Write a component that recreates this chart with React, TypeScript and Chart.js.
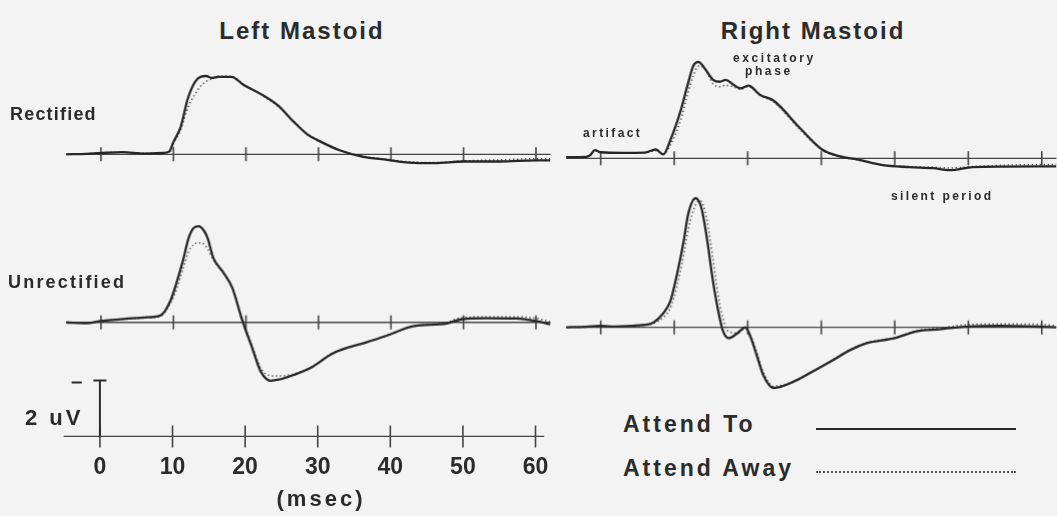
import React, { useEffect, useRef } from "react";
import { Chart, registerables } from "chart.js";

Chart.register(...registerables);

// ---------- data ----------
const X_TICKS = [0, 10, 20, 30, 40, 50, 60];
const SCALE_BAR_UV = 2;
const SERIES_NAMES = ["Attend To", "Attend Away"];

// Left mastoid, rectified (ms, uV)
const LR_MS = [-4.8, -2, 0, 3, 6, 8.5, 9.4, 10, 11, 12, 13, 13.8, 14.5, 15.3, 16.2, 18, 19.7, 22, 24.4, 26.6, 28.5, 30, 33, 36, 39.5, 42.5, 46, 50, 55, 60, 62];
const LR_TO = [0, 0.02, 0.05, 0.08, 0.03, 0.05, 0.1, 0.45, 1.0, 2.05, 2.65, 2.83, 2.85, 2.78, 2.82, 2.82, 2.52, 2.2, 1.78, 1.18, 0.72, 0.5, 0.14, -0.08, -0.2, -0.3, -0.32, -0.26, -0.26, -0.22, -0.22];
const LR_AWAY = [0, 0.02, 0.05, 0.07, 0.04, 0.05, 0.08, 0.4, 0.9, 1.7, 2.2, 2.5, 2.65, 2.75, 2.85, 2.83, 2.55, 2.18, 1.75, 1.2, 0.74, 0.52, 0.15, -0.06, -0.18, -0.27, -0.3, -0.24, -0.2, -0.16, -0.16];

// Left mastoid, unrectified
const LU_MS = [-4.8, -2, 0, 3.7, 6, 8.2, 9.6, 10.3, 11.3, 12.1, 12.8, 13.5, 14.2, 14.7, 15.5, 16.9, 18.1, 19.5, 20.9, 22, 23.4, 24.5, 26.6, 28.9, 32, 36.7, 39.6, 43, 47.7, 49.5, 53, 57.3, 60, 62];
const LU_TO = [0, -0.03, 0.05, 0.14, 0.18, 0.25, 0.79, 1.32, 2.21, 3.04, 3.4, 3.46, 3.3, 3.04, 2.32, 1.79, 1.25, 0.07, -0.95, -1.75, -2.1, -2.06, -1.89, -1.64, -1.11, -0.71, -0.46, -0.14, -0.04, 0.1, 0.15, 0.14, 0.05, -0.07];
const LU_AWAY = [0, -0.02, 0.05, 0.12, 0.16, 0.22, 0.7, 1.1, 1.9, 2.55, 2.8, 2.86, 2.82, 2.65, 2.25, 1.75, 1.25, 0.12, -0.88, -1.62, -1.92, -1.93, -1.85, -1.62, -1.1, -0.7, -0.45, -0.15, 0.0, 0.16, 0.2, 0.2, 0.15, 0.02];

// Right mastoid, rectified
const RR_MS = [-4.7, -2, -1.4, -0.8, 0, 3, 6, 7.5, 8.5, 9.5, 10.9, 11.8, 12.6, 13.3, 14, 15.3, 16.2, 17, 18, 19, 20.1, 21.7, 23.5, 27.1, 30.1, 32.6, 34.9, 38.4, 42, 45.2, 47.5, 50.6, 55, 62];
const RR_TO = [0.04, 0.05, 0.12, 0.3, 0.22, 0.2, 0.21, 0.32, 0.14, 0.68, 1.75, 2.64, 3.36, 3.5, 3.32, 2.85, 2.78, 2.85, 2.68, 2.54, 2.64, 2.3, 2.1, 1.1, 0.32, 0.07, -0.04, -0.25, -0.32, -0.36, -0.43, -0.32, -0.3, -0.29];
const RR_AWAY = [0.04, 0.05, 0.12, 0.28, 0.22, 0.2, 0.2, 0.28, 0.15, 0.5, 1.4, 2.3, 3.0, 3.35, 3.3, 2.7, 2.6, 2.65, 2.6, 2.5, 2.6, 2.28, 2.05, 1.05, 0.3, 0.05, -0.06, -0.25, -0.3, -0.32, -0.35, -0.3, -0.25, -0.22];

// Right mastoid, unrectified
const RU_MS = [-4.7, -2, 0, 2, 5, 7.2, 8.5, 9.5, 10.4, 11.3, 11.9, 12.9, 13.5, 13.8, 14.5, 15.2, 15.9, 16.6, 17.4, 18.6, 19.7, 20.4, 21.3, 22.1, 23.5, 26.2, 28.5, 31.6, 33.9, 36.2, 40, 43, 46.1, 50, 54.3, 60, 62];
const RU_TO = [0, 0.02, 0.05, 0.03, 0.07, 0.18, 0.5, 0.96, 1.93, 3.11, 4.07, 4.64, 4.45, 4.18, 3.11, 1.79, 0.71, -0.11, -0.39, -0.21, 0.0, -0.36, -1.07, -1.71, -2.18, -1.96, -1.64, -1.18, -0.82, -0.57, -0.39, -0.14, -0.07, 0.03, 0.05, 0.02, 0];
const RU_AWAY = [0, 0.02, 0.04, 0.03, 0.06, 0.14, 0.35, 0.7, 1.5, 2.6, 3.5, 4.4, 4.55, 4.5, 3.8, 2.6, 1.3, 0.35, -0.15, -0.2, -0.05, -0.3, -0.95, -1.6, -2.12, -1.94, -1.62, -1.16, -0.8, -0.55, -0.37, -0.12, -0.03, 0.1, 0.12, 0.1, 0.06];

// ---------- layout / style ----------
const FONT = '"Liberation Sans", Arial, Helvetica, sans-serif';
const INK = "#2b2b2b";
const BG = "#f3f3f3";
const PX_PER_UV = 28;
const LEFT_GEOM = { x0px: 100, pxPerMs: 7.27 };
const RIGHT_GEOM = { x0px: 600, pxPerMs: 7.37 };

const pts = (xs: number[], ys: number[]) => xs.map((x, i) => ({ x, y: ys[i] }));

const baselinePlugin = {
  id: "baseline",
  beforeDatasetsDraw(chart: any, _a: any, opts: any) {
    const { ctx, scales } = chart;
    const x = scales.x, y = scales.y;
    const y0 = y.getPixelForValue(0);
    ctx.save();
    ctx.strokeStyle = opts.color;
    ctx.lineWidth = opts.width;
    ctx.beginPath();
    ctx.moveTo(x.getPixelForValue(opts.from), y0);
    ctx.lineTo(x.getPixelForValue(opts.to), y0);
    ctx.stroke();
    ctx.lineWidth = opts.tickWidth;
    ctx.beginPath();
    for (const t of opts.ticks) {
      const px = x.getPixelForValue(t);
      ctx.moveTo(px, y0 - opts.half);
      ctx.lineTo(px, y0 + opts.half);
    }
    ctx.stroke();
    ctx.restore();
  },
};

const scaleBarPlugin = {
  id: "scalebar",
  afterDatasetsDraw(chart: any, _a: any, opts: any) {
    if (!opts || !opts.enabled) return;
    const { ctx, scales } = chart;
    const x = scales.x, y = scales.y;
    const px0 = x.getPixelForValue(0);
    const yb = y.getPixelForValue(0);
    const yt = y.getPixelForValue(opts.value);
    ctx.save();
    ctx.strokeStyle = INK;
    ctx.lineWidth = 2;
    ctx.beginPath();
    ctx.moveTo(px0, yb);
    ctx.lineTo(px0, yt);
    ctx.moveTo(x.getPixelForValue(-0.9), yt);
    ctx.lineTo(x.getPixelForValue(0.9), yt);
    ctx.moveTo(x.getPixelForValue(-3.9), yt + 2);
    ctx.lineTo(x.getPixelForValue(-2.5), yt + 2);
    ctx.stroke();
    ctx.restore();
  },
};

type Spec = {
  geom: { x0px: number; pxPerMs: number };
  baselinePx: number;
  xMin: number;
  xMax: number;
  yMin: number;
  yMax: number;
  lineFrom: number;
  lineTo: number;
  tickHalf: number;
  ms?: number[];
  to?: number[];
  away?: number[];
  axisLabels?: boolean;
};

function Panel({ spec }: { spec: Spec }) {
  const ref = useRef<HTMLCanvasElement>(null);
  useEffect(() => {
    const datasets: any[] = [];
    if (spec.ms && spec.to && spec.away) {
      datasets.push({
        label: SERIES_NAMES[0],
        data: pts(spec.ms, spec.to),
        borderColor: "#262626",
        borderWidth: 2.3,
        pointRadius: 0,
        cubicInterpolationMode: "monotone",
        fill: false,
      });
      datasets.push({
        label: SERIES_NAMES[1],
        data: pts(spec.ms, spec.away),
        borderColor: "#444",
        borderWidth: 1.5,
        borderDash: [1.3, 2.7],
        pointRadius: 0,
        cubicInterpolationMode: "monotone",
        fill: false,
      });
    }
    const xScale: any = {
      type: "linear",
      min: spec.xMin,
      max: spec.xMax,
      display: false,
    };
    if (spec.axisLabels) {
      Object.assign(xScale, {
        display: true,
        position: { y: 0 },
        grid: { display: false, drawTicks: false },
        border: { display: false },
        ticks: {
          font: { family: FONT, size: 23, weight: "bold" },
          color: INK,
          padding: 17,
          autoSkip: false,
          maxRotation: 0,
          minRotation: 0,
        },
        afterBuildTicks: (s: any) => {
          s.ticks = X_TICKS.map((v) => ({ value: v }));
        },
      });
    }
    const chart = new Chart(ref.current as HTMLCanvasElement, {
      type: "line",
      data: { datasets },
      options: {
        animation: false,
        responsive: true,
        maintainAspectRatio: false,
        layout: { padding: 0 },
        scales: {
          x: xScale,
          y: { type: "linear", min: spec.yMin, max: spec.yMax, display: false },
        },
        plugins: {
          legend: { display: false },
          tooltip: { enabled: false },
          baseline: {
            from: spec.lineFrom,
            to: spec.lineTo,
            ticks: X_TICKS,
            half: spec.tickHalf,
            color: "#454545",
            width: 1.3,
            tickWidth: 1.6,
          },
          scalebar: { enabled: !!spec.axisLabels, value: SCALE_BAR_UV },
        } as any,
      },
      plugins: [baselinePlugin, scaleBarPlugin],
    });
    return () => chart.destroy();
  }, []);
  const left = spec.geom.x0px + spec.xMin * spec.geom.pxPerMs;
  const width = (spec.xMax - spec.xMin) * spec.geom.pxPerMs;
  const top = spec.baselinePx - spec.yMax * PX_PER_UV;
  const height = (spec.yMax - spec.yMin) * PX_PER_UV;
  return (
    <div style={{ position: "absolute", left, top, width, height }}>
      <canvas ref={ref} />
    </div>
  );
}

const PANELS: Spec[] = [
  { geom: LEFT_GEOM, baselinePx: 155, xMin: -4.8, xMax: 62, yMin: -1, yMax: 3.5, lineFrom: -4.8, lineTo: 62, tickHalf: 7, ms: LR_MS, to: LR_TO, away: LR_AWAY },
  { geom: LEFT_GEOM, baselinePx: 322, xMin: -4.8, xMax: 62, yMin: -2.6, yMax: 4, lineFrom: -4.8, lineTo: 62, tickHalf: 7, ms: LU_MS, to: LU_TO, away: LU_AWAY },
  { geom: RIGHT_GEOM, baselinePx: 159, xMin: -4.7, xMax: 62, yMin: -1, yMax: 4, lineFrom: -4.7, lineTo: 62, tickHalf: 7, ms: RR_MS, to: RR_TO, away: RR_AWAY },
  { geom: RIGHT_GEOM, baselinePx: 327, xMin: -4.7, xMax: 62, yMin: -2.6, yMax: 5, lineFrom: -4.7, lineTo: 62, tickHalf: 7, ms: RU_MS, to: RU_TO, away: RU_AWAY },
  { geom: LEFT_GEOM, baselinePx: 436, xMin: -5.5, xMax: 64, yMin: -2.7, yMax: 2.3, lineFrom: -5, lineTo: 61.2, tickHalf: 11, axisLabels: true },
];

function Label({ text, left, top, size, spacing, center }: { text: string; left: number; top: number; size: number; spacing: number; center?: boolean }) {
  const style: React.CSSProperties = {
    position: "absolute",
    top,
    fontFamily: FONT,
    fontWeight: "bold",
    fontSize: size,
    lineHeight: 1,
    letterSpacing: spacing,
    color: INK,
    whiteSpace: "nowrap",
  };
  if (center) {
    style.left = left - 200;
    style.width = 400;
    style.textAlign = "center";
    style.paddingLeft = spacing;
  } else {
    style.left = left;
  }
  return <div style={style}>{text}</div>;
}

export default function App() {
  return (
    <div style={{ position: "absolute", left: 0, top: 0, width: 1057, height: 516, background: BG, overflow: "hidden" }}>
      {PANELS.map((p, i) => (
        <Panel key={i} spec={p} />
      ))}
      <Label text="Left Mastoid" left={300} top={19} size={24} spacing={2} center />
      <Label text="Right Mastoid" left={811} top={19} size={24} spacing={2} center />
      <Label text="Rectified" left={10} top={105} size={18} spacing={1.2} />
      <Label text="Unrectified" left={8} top={273} size={18} spacing={2.2} />
      <Label text="artifact" left={583} top={127} size={12} spacing={2.4} />
      <Label text="excitatory" left={733} top={52} size={12} spacing={2.6} />
      <Label text="phase" left={745} top={65} size={12} spacing={2.6} />
      <Label text="silent period" left={891} top={190} size={12} spacing={2.4} />
      <Label text="2 uV" left={25} top={407} size={22} spacing={3} />
      <Label text="(msec)" left={318} top={488} size={22} spacing={3} center />
      <Label text={SERIES_NAMES[0]} left={623} top={413} size={23} spacing={3} />
      <Label text={SERIES_NAMES[1]} left={623} top={457} size={23} spacing={3} />
      <div style={{ position: "absolute", left: 816, top: 428, width: 200, borderTop: "2px solid #2a2a2a" }} />
      <div style={{ position: "absolute", left: 816, top: 471, width: 200, borderTop: "2px dotted #555" }} />
    </div>
  );
}
